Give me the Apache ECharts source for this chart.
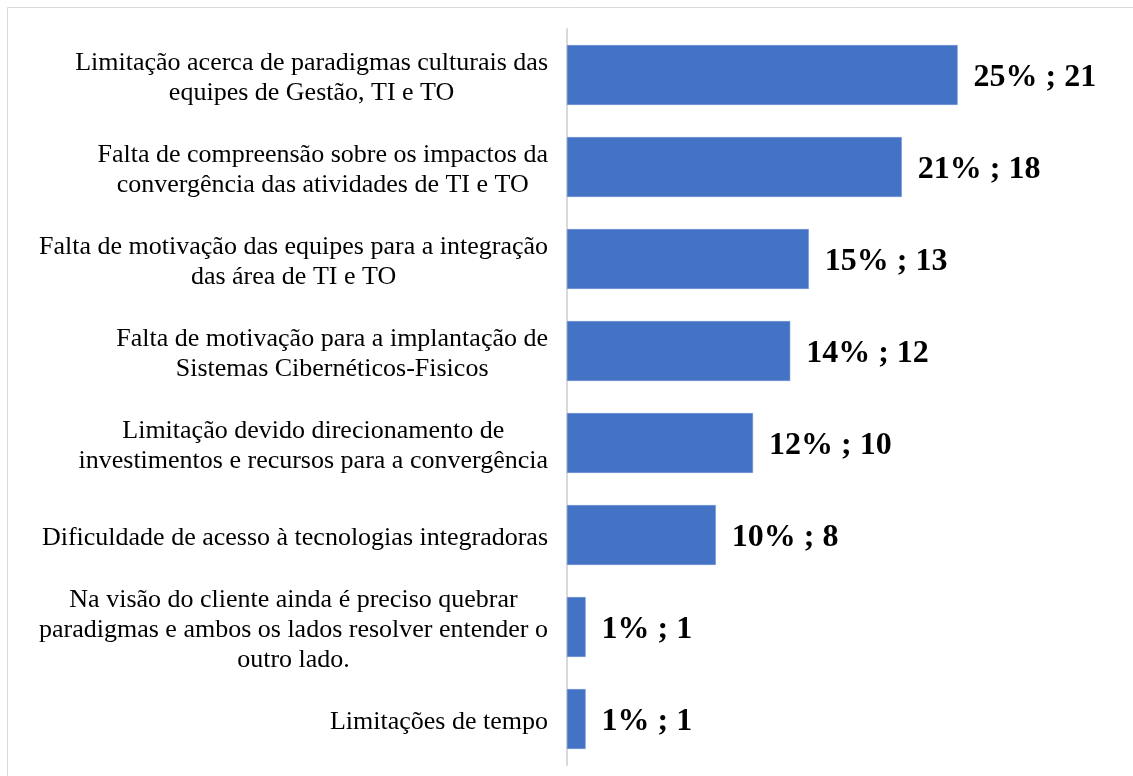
<!DOCTYPE html>
<html>
<head>
<meta charset="utf-8">
<script src="https://cdn.jsdelivr.net/npm/echarts@6/dist/echarts.min.js"></script>
<style>
html,body{margin:0;padding:0;background:#fff;}
#chart{width:1133px;height:776px;}
</style>
</head>
<body>
<div id="chart"></div>
<script>
const categories = [
  "Limitação acerca de paradigmas culturais das\nequipes de Gestão, TI e TO",
  "Falta de compreensão sobre os impactos da\nconvergência das atividades de TI e TO",
  "Falta de motivação das equipes para a integração\ndas área de TI e TO",
  "Falta de motivação para a implantação de\nSistemas Cibernéticos-Fisicos",
  "Limitação devido direcionamento de\ninvestimentos e recursos para a convergência",
  "Dificuldade de acesso à tecnologias integradoras",
  "Na visão do cliente ainda é preciso quebrar\nparadigmas e ambos os lados resolver entender o\noutro lado.",
  "Limitações de tempo"
];
const counts = [21, 18, 13, 12, 10, 8, 1, 1];
const percents = ["25%", "21%", "15%", "14%", "12%", "10%", "1%", "1%"];

const chart = echarts.init(document.getElementById('chart'), null, {renderer: 'canvas'});
const serif = '"Liberation Serif", "Times New Roman", serif';

chart.setOption({
  animation: false,
  backgroundColor: '#ffffff',
  graphic: [{
    type: 'rect',
    shape: {x: 7.5, y: 7.5, width: 1200, height: 1000},
    style: {fill: 'none', stroke: '#d9d9d9', lineWidth: 1},
    silent: true
  }],
  grid: {left: 567, right: 8, top: 29, bottom: 11, containLabel: false},
  xAxis: {
    type: 'value',
    min: 0, max: 30,
    show: false
  },
  yAxis: {
    type: 'category',
    data: categories,
    inverse: true,
    axisLine: {show: true, lineStyle: {color: '#d9d9d9', width: 2}},
    axisTick: {show: false},
    splitLine: {show: false},
    axisLabel: {
      margin: 19,
      color: '#000',
      fontFamily: serif,
      fontSize: 26,
      padding: [6, 0, 0, 0],
      formatter: function (v) {
        return v.split('\n').map(l => '{c|' + l + '}').join('\n');
      },
      rich: {
        c: {align: 'center', fontFamily: serif, fontSize: 26, lineHeight: 30, color: '#000'}
      }
    }
  },
  series: [{
    type: 'bar',
    data: counts,
    barCategoryGap: '35%',
    itemStyle: {color: '#4472C4', borderColor: '#6d93d6', borderWidth: 0.5},
    label: {
      show: true,
      position: 'right',
      distance: 16,
      offset: [0, 3],
      color: '#000',
      fontFamily: serif,
      fontWeight: 'bold',
      fontSize: 32,
      formatter: function (p) { return percents[p.dataIndex] + ' ; ' + counts[p.dataIndex]; }
    }
  }]
});
</script>
</body>
</html>
